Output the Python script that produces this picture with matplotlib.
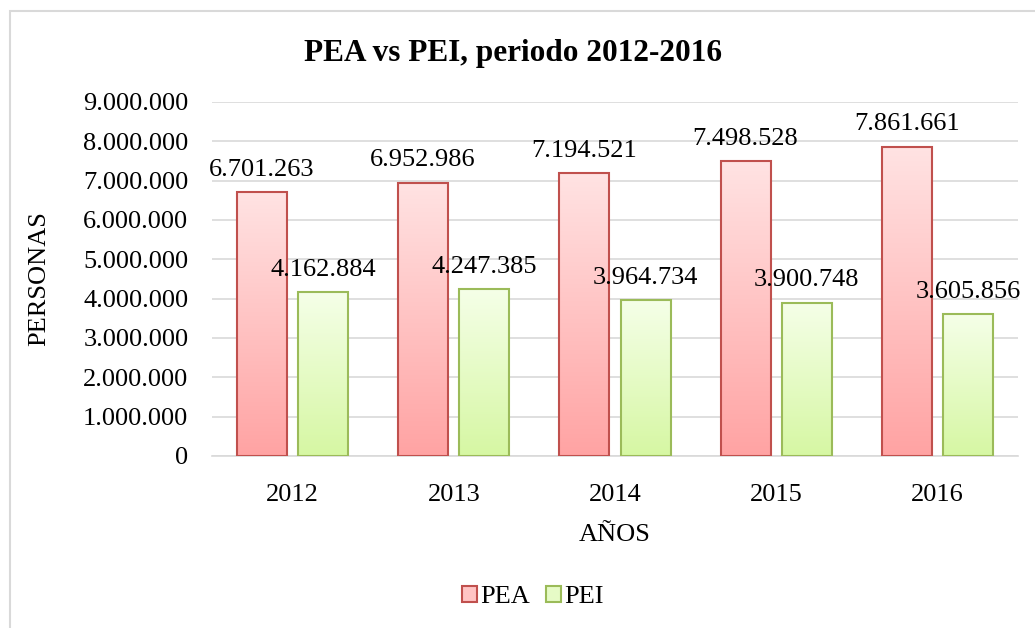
import matplotlib
matplotlib.use("Agg")
import matplotlib.pyplot as plt
import numpy as np
from matplotlib.patches import Rectangle, Patch
from matplotlib.ticker import FuncFormatter

years = ["2012", "2013", "2014", "2015", "2016"]
pea = [6701263, 6952986, 7194521, 7498528, 7861661]
pei = [4162884, 4247385, 3964734, 3900748, 3605856]

plt.rcParams['font.family'] = ['Liberation Serif', 'DejaVu Serif']

fig = plt.figure(figsize=(10.35, 6.28), dpi=100)
ax = fig.add_axes([212/1035, 1-456/628, (1018-212)/1035, (456-102)/628])

def fmt(v):
    return f"{int(v):,}".replace(",", ".")

x = np.arange(len(years))
w = 0.31
off = 0.19

def gradient_bars(xs, vals, top_col, bot_col, edge):
    bars = ax.bar(xs, vals, width=w, facecolor='none', edgecolor=edge, linewidth=1.5, zorder=3)
    grad = np.linspace(0, 1, 256).reshape(-1, 1)
    tc = np.array(matplotlib.colors.to_rgb(top_col))
    bc = np.array(matplotlib.colors.to_rgb(bot_col))
    img = tc[None, None, :] * (1 - grad[:, :, None]) + bc[None, None, :] * grad[:, :, None]
    for b in bars:
        x0 = b.get_x(); h = b.get_height()
        im = ax.imshow(img, extent=[x0, x0 + b.get_width(), 0, h], origin='upper',
                       aspect='auto', zorder=2)
        im.set_clip_path(b)
    return bars

gradient_bars(x - off, pea, '#FFE3E3', '#FFA3A3', '#C0504D')
gradient_bars(x + off, pei, '#F5FFE8', '#D6F7A3', '#9BBB59')

for xi, v in zip(x - off, pea):
    ax.text(xi, v + 290000, fmt(v), ha='center', va='bottom', fontsize=19)
for xi, v in zip(x + off, pei):
    ax.text(xi, v + 290000, fmt(v), ha='center', va='bottom', fontsize=19)

ax.set_xlim(-0.5, len(years) - 0.5)
ax.set_ylim(0, 9000000)
ax.set_yticks(np.arange(0, 9000001, 1000000))
ax.yaxis.set_major_formatter(FuncFormatter(lambda v, p: fmt(v)))
ax.set_xticks(x)
ax.set_xticklabels(years)
ax.tick_params(axis='both', length=0, labelsize=19, colors='black')
ax.tick_params(axis='y', pad=17)
ax.tick_params(axis='x', pad=20)
ax.grid(axis='y', color='#D9D9D9', linewidth=1.2, zorder=0)
ax.set_axisbelow(True)
for s in ['top', 'right', 'left']:
    ax.spines[s].set_visible(False)
ax.spines['bottom'].set_color('#D9D9D9')
ax.spines['bottom'].set_linewidth(1.2)

ax.set_ylabel("PERSONAS", fontsize=19, labelpad=24)
ax.set_xlabel("AÑOS", fontsize=19, labelpad=13)
fig.text(513/1035, 1 - 53/628, "PEA vs PEI, periodo 2012-2016", ha='center', va='center',
         fontsize=22.5, fontweight='bold')

handles = [Patch(facecolor='#FFC4C4', edgecolor='#C0504D', linewidth=1.5, label='PEA'),
           Patch(facecolor='#E6FBC6', edgecolor='#9BBB59', linewidth=1.5, label='PEI')]
fig.legend(handles=handles, loc='center', bbox_to_anchor=(533/1035, 1 - 597/628), ncol=2,
           frameon=False, fontsize=19, handlelength=0.55, handleheight=0.55,
           handletextpad=0.15, columnspacing=0.6)

fig.patches.append(Rectangle((10/1035, -0.1), 1.2, 1 - 11/628 + 0.1, transform=fig.transFigure,
                             fill=False, edgecolor='#D9D9D9', linewidth=1.5, zorder=0))

fig.savefig("out.png", dpi=100)
